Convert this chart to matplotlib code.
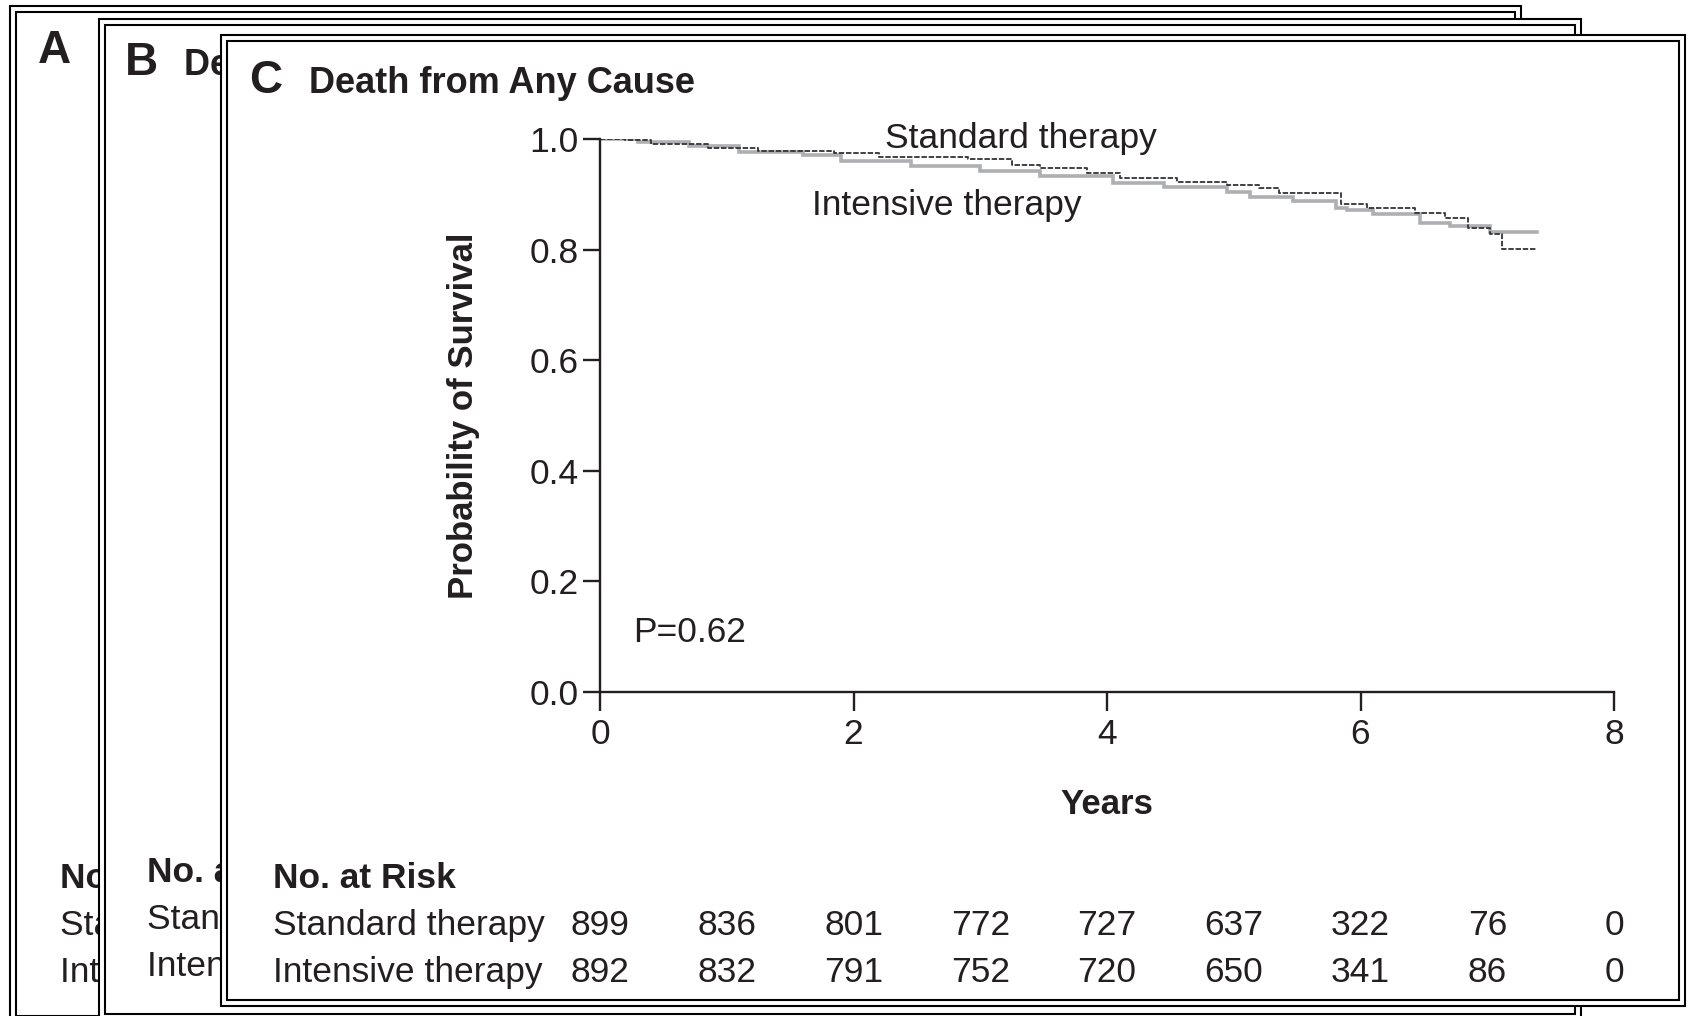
import matplotlib
matplotlib.use("Agg")
import matplotlib.pyplot as plt
from matplotlib.patches import Rectangle
from matplotlib.transforms import blended_transform_factory

plt.rcParams['font.family'] = ['Liberation Sans', 'DejaVu Sans']

# survival curves (years, probability)
standard_years = [0, 0.2, 0.4, 0.85, 1.25, 1.85, 2.2, 2.9, 3.25, 3.47, 3.84, 4.1,
                  4.55, 4.95, 5.2, 5.36, 5.85, 6.05, 6.43, 6.67, 6.85, 7.02, 7.12, 7.39]
standard_surv = [1.0, 0.998, 0.991, 0.984, 0.979, 0.974, 0.968, 0.964, 0.953, 0.947,
                 0.938, 0.929, 0.923, 0.917, 0.911, 0.902, 0.882, 0.875, 0.867, 0.857,
                 0.839, 0.829, 0.801, 0.801]
intensive_years = [0, 0.3, 0.7, 1.1, 1.6, 1.9, 2.45, 3.0, 3.47, 4.05, 4.45, 4.95,
                   5.13, 5.47, 5.81, 5.89, 6.1, 6.47, 6.71, 7.02, 7.39]
intensive_surv = [1.0, 0.995, 0.987, 0.977, 0.971, 0.960, 0.951, 0.942, 0.933, 0.920,
                  0.913, 0.904, 0.896, 0.887, 0.875, 0.872, 0.864, 0.848, 0.843, 0.832,
                  0.832]

# number at risk table
risk_years = [0, 1, 2, 3, 4, 5, 6, 7, 8]
risk_standard = [899, 836, 801, 772, 727, 637, 322, 76, 0]
risk_intensive = [892, 832, 791, 752, 720, 650, 341, 86, 0]

x_ticks = [0, 2, 4, 6, 8]
y_ticks = [0.0, 0.2, 0.4, 0.6, 0.8, 1.0]

W, H = 1688, 1016
INK = '#231f20'
fig = plt.figure(figsize=(W / 100, H / 100), dpi=100)


def frame(left, top, right, bottom, z):
    # double line border, white inside so it covers the panel behind
    for inset, fill in ((0, True), (6, False)):
        l, t, r, b = left + inset, top + inset, right - inset, bottom - inset
        fig.add_artist(Rectangle((l / W, 1 - b / H), (r - l) / W, (b - t) / H,
                                 transform=fig.transFigure, facecolor='white',
                                 fill=fill, edgecolor='black', lw=1.5, zorder=z))


def label(x, y, s, z, **kw):
    kw.setdefault('fontsize', 25.5)
    fig.text(x / W, 1 - y / H, s, va='baseline', color=INK, zorder=z, **kw)


def risk_labels(x, y0, z):
    label(x, y0, 'No. at Risk', z, fontweight='bold')
    label(x, y0 + 47, 'Standard therapy', z)
    label(x, y0 + 94, 'Intensive therapy', z)


# panel A (behind)
frame(10, 6, 1521, 1022, 1)
label(38, 63, 'A', 2, fontsize=33, fontweight='bold')
label(97, 63, 'Primary Outcome', 2, fontsize=26, fontweight='bold')
risk_labels(60, 888, 2)

# panel B
frame(99, 19, 1581, 1020, 3)
label(125, 75, 'B', 4, fontsize=33, fontweight='bold')
label(184, 75, 'Death from Cardiovascular Causes', 4, fontsize=26, fontweight='bold')
risk_labels(147, 882, 4)

# panel C (front)
frame(221, 35, 1685, 1006, 5)
label(249, 93, 'C', 6, fontsize=33, fontweight='bold')
label(309, 93, 'Death from Any Cause', 6, fontsize=26, fontweight='bold')
risk_labels(273, 888, 6)

ax = fig.add_axes([600 / W, 1 - 692 / H, 1014 / W, 553 / H], zorder=10)
ax.patch.set_alpha(0)

ax.step(intensive_years, intensive_surv, where='post', color='#adafb2', lw=2.6,
        solid_joinstyle='miter')
ax.step(standard_years, standard_surv, where='post', color='#333333', lw=1.3,
        dashes=(3, 1))

ax.set_xlim(0, 8)
ax.set_ylim(0, 1)
ax.set_xticks(x_ticks)
ax.set_yticks(y_ticks)
ax.set_yticklabels([f'{v:.1f}' for v in y_ticks])
for side in ['top', 'right']:
    ax.spines[side].set_visible(False)
for side in ['left', 'bottom']:
    ax.spines[side].set_linewidth(1.7)
    ax.spines[side].set_color(INK)
ax.tick_params(axis='both', direction='out', width=1.7, color=INK,
               labelsize=25.5, labelcolor=INK)
ax.tick_params(axis='y', length=12.5, pad=3)
ax.tick_params(axis='x', length=13.5, pad=5)

ax.set_xlabel('Years', fontsize=25, fontweight='bold', color=INK)
ax.xaxis.set_label_coords(0.5, (692 - 804) / 553)
ax.xaxis.label.set_va('center')
ax.set_ylabel('Probability of Survival', fontsize=25, fontweight='bold', color=INK)
ax.yaxis.set_label_coords((463 - 600) / 1014, 0.5)
ax.yaxis.label.set_va('center')

ax.text(2.25, 0.984, 'Standard therapy', fontsize=25.5, color=INK, va='baseline')
ax.text(1.675, 0.8626, 'Intensive therapy', fontsize=25.5, color=INK, va='baseline')
ax.text(0.26, 0.090, 'P=0.62', fontsize=25.5, color=INK, va='baseline')

trans = blended_transform_factory(ax.transData, fig.transFigure)
for yr, s, i in zip(risk_years, risk_standard, risk_intensive):
    ax.text(yr, 1 - 935 / H, str(s), transform=trans, ha='center', va='baseline',
            fontsize=25.5, color=INK, clip_on=False)
    ax.text(yr, 1 - 982 / H, str(i), transform=trans, ha='center', va='baseline',
            fontsize=25.5, color=INK, clip_on=False)

fig.savefig('out.png', dpi=100, facecolor='white')
